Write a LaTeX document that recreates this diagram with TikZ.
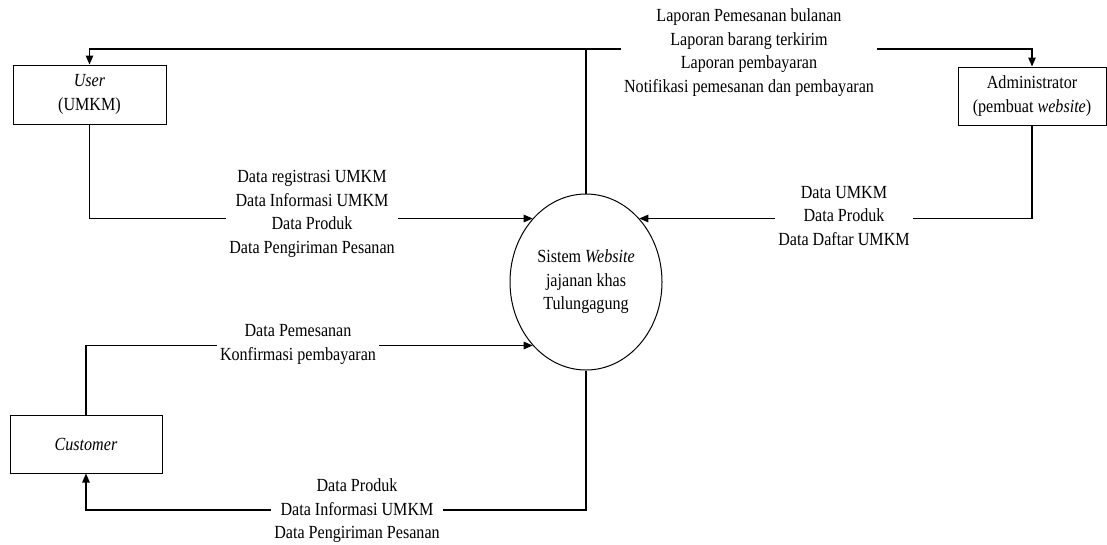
\documentclass[tikz,border=0pt]{standalone}
\usepackage{fontspec}
\setmainfont{Liberation Serif}[FakeStretch=0.87]
\usetikzlibrary{arrows.meta,shapes.geometric}
\begin{document}
\begin{tikzpicture}[x=1pt,y=-1pt,
  every node/.style={font=\fontsize{18.5}{23.5}\selectfont},
  entity/.style={draw, line width=1pt, inner sep=0pt, align=center},
  process/.style={ellipse, draw, line width=1pt, minimum width=152pt,
    minimum height=176pt, inner sep=0pt, align=center},
  link/.style={line width=1.2pt},
  flow/.style={link, -{Triangle[length=9pt,width=7.5pt]}},
  flowlabel/.style={fill=white, inner xsep=3pt, inner ysep=0pt, align=center}]
\useasboundingbox (0,0) rectangle (1107,544);

% external entities and the central process
\node[entity, minimum width=153pt, minimum height=59pt] (user) at (89.5,94.5)
  {\textit{User}\\(UMKM)};
\node[entity, minimum width=148pt, minimum height=58pt] (admin) at (1032,96)
  {Administrator\\(pembuat \textit{website})};
\node[entity, minimum width=152pt, minimum height=58pt] (cust) at (86,444)
  {\textit{Customer}};
\node[process] (sys) at (586,282)
  {Sistem \textit{Website}\\jajanan khas\\Tulungagung};

% bends of the report and output flows
\coordinate (top) at (586,49);
\coordinate (bot) at (586,510);

% data flows
\draw[link] (sys.north) -- (top);
\draw[flow] (top) -| (user.north);
\draw[flow] (top) -| (admin.north);
\draw[flow] (user.south) |- (sys.130);
\draw[flow] (admin.south) |- (sys.50);
\draw[flow] (cust.north) |- (sys.230);
\draw[flow] (sys.south) -- (bot) -| (cust.south);

% flow labels
\node[flowlabel] (lrep) at (749,52.5)
  {Laporan Pemesanan bulanan\\Laporan barang terkirim\\Laporan pembayaran\\Notifikasi pemesanan dan pembayaran};
\node[flowlabel] (lusr) at (312,214)
  {Data registrasi UMKM\\Data Informasi UMKM\\Data Produk\\Data Pengiriman Pesanan};
\node[flowlabel] (ladm) at (844,216)
  {Data UMKM\\Data Produk\\Data Daftar UMKM};
\node[flowlabel] (lcus) at (298,344.5)
  {Data Pemesanan\\Konfirmasi pembayaran};
\node[flowlabel] (lout) at (357,511)
  {Data Produk\\Data Informasi UMKM\\Data Pengiriman Pesanan};
\end{tikzpicture}
\end{document}
